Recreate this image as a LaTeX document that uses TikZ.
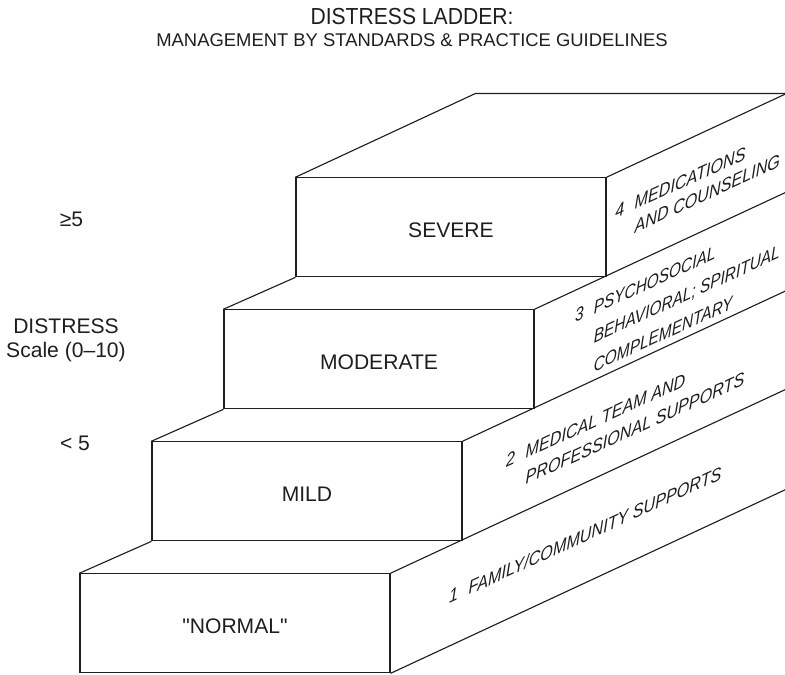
\documentclass[tikz,border=0pt]{standalone}
\usepackage{fontspec}
\setsansfont{Liberation Sans}
\usetikzlibrary{calc,positioning}
\definecolor{inkgray}{HTML}{1E1E1E}

\tikzset{
  stepbox/.style={draw=inkgray, line width=0.8pt, minimum width=7.75cm, minimum height=2.475cm,
    inner sep=0pt, text height=15pt, text depth=0pt, font=\sffamily\fontsize{15}{18}\selectfont, text=inkgray},
  stepline/.style={line width=0.8pt, inkgray},
  sidelabel/.style={font=\sffamily\itshape\fontsize{13.2}{#1}\selectfont, text=inkgray,
    anchor=base west, inner sep=0pt, yslant=0.458, xscale=0.87},
  sidelabel/.default=18.4,
  scalelabel/.style={font=\sffamily\fontsize{15}{17}\selectfont, text=inkgray, align=center}
}

\begin{document}
\begin{tikzpicture}[font=\sffamily]
  \useasboundingbox (0,0) rectangle (19.625,16.85);

  % Title
  \node[font=\sffamily\fontsize{16.5}{18}\selectfont, text=inkgray, anchor=base, xscale=0.91] (title) at (10.3,16.225) {DISTRESS LADDER:};
  \node[font=\sffamily\fontsize{13.1}{16}\selectfont, text=inkgray, anchor=base] (subtitle) at (10.3,15.675)
    {MANAGEMENT BY STANDARDS \& PRACTICE GUIDELINES};

  % depth direction of the oblique view
  \coordinate (dv) at (1.8,0.8375);

  % ----------------------------------------------------
  % Front faces of the four steps
  % ----------------------------------------------------
  \foreach \i/\nm/\txt in {0/normal/{\textquotedbl NORMAL\textquotedbl}, 1/mild/MILD, 2/moderate/MODERATE, 3/severe/SEVERE} {
    \node[stepbox] (\nm) at (5.875+1.8*\i, 1.2675+3.3*\i) {\txt};
  }

  % Top faces (left edges) and long side faces
  \foreach \nm/\up in {normal/mild, mild/moderate, moderate/severe} {
    \draw[stepline] (\nm.north west) -- (\up.south west);
  }
  \foreach \nm/\deep in {normal/5.5, mild/4.5, moderate/3.5, severe/2.5} {
    \coordinate (\nm-back) at ($(\nm.north east)+\deep*(dv)$);
    \draw[stepline] (\nm.north east) -- (\nm-back);
  }
  \coordinate (normal-base) at ($(normal.south east)+5.5*(dv)$);
  \draw[stepline] (normal.south east) -- (normal-base);

  \coordinate (severe-topleft) at ($(severe.north west)+2.5*(dv)$);
  \draw[stepline] (severe.north west) -- (severe-topleft) -- (severe-back);

  % ----------------------------------------------------
  % Side face labels
  % ----------------------------------------------------
  \node[sidelabel] (lvl1) at (11.225,1.75) {1\hspace{0.65em}FAMILY/COMMUNITY SUPPORTS};
  \node[sidelabel=18.4] (lvl2) at (12.65,5.15) {\begin{tabular}[t]{@{}l@{\hspace{0.65em}}l@{}}
    2 & MEDICAL TEAM AND\\ & PROFESSIONAL SUPPORTS\end{tabular}};
  \node[sidelabel=20.5, xscale=0.955] (lvl3) at (14.375,8.775) {\begin{tabular}[t]{@{}l@{\hspace{0.65em}}l@{}}
    3 & PSYCHOSOCIAL\\ & BEHAVIORAL; SPIRITUAL\\ & COMPLEMENTARY\end{tabular}};
  \node[sidelabel=16.5] (lvl4) at (15.375,11.375) {\begin{tabular}[t]{@{}l@{\hspace{0.65em}}l@{}}
    4 & MEDICATIONS\\ & AND COUNSELING\end{tabular}};

  % ----------------------------------------------------
  % Distress scale
  % ----------------------------------------------------
  \node[scalelabel] (high) at (1.7875,11.3625) {≥5};
  \node[scalelabel] (scale) at (1.65,8.35) {DISTRESS\\Scale (0--10)};
  \node[scalelabel] (low) at (1.875,5.7625) {< 5};

\end{tikzpicture}
\end{document}
